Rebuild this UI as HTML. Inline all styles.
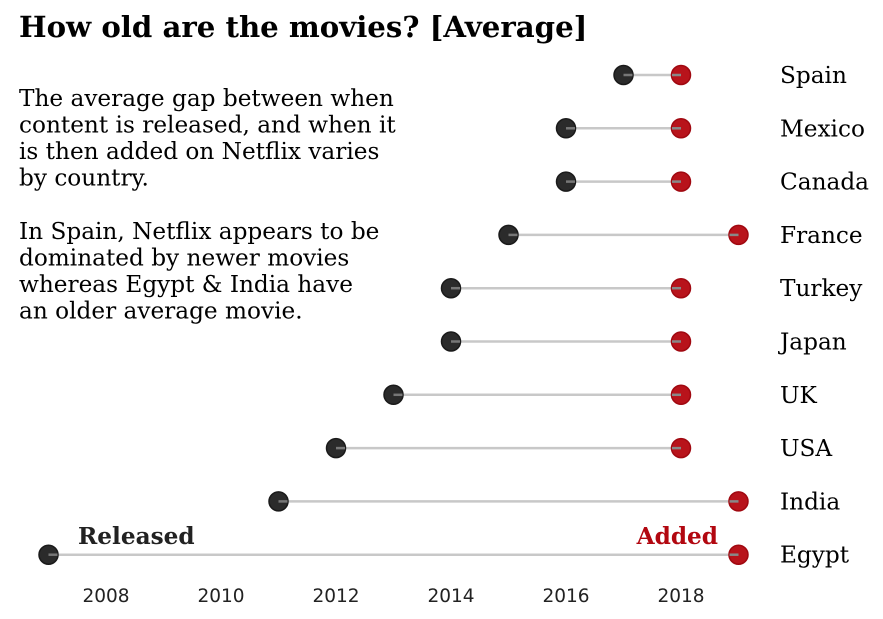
<!DOCTYPE html>
<html><head><meta charset="utf-8"><style>
body{margin:0;background:#fff;}
svg{display:block;}
.serif{font-family:"DejaVu Serif","Liberation Serif",serif;}
.sans{font-family:"DejaVu Sans","Liberation Sans",sans-serif;}
</style></head><body>
<svg id="chart" width="883" height="619">
<text class="serif" x="19" y="37" font-size="29.2" font-weight="bold" fill="#000">How old are the movies? [Average]</text>
<g class="serif" font-size="23.2" fill="#000">
<text x="19" y="106">The average gap between when</text>
<text x="19" y="132.5">content is released, and when it</text>
<text x="19" y="159">is then added on Netflix varies</text>
<text x="19" y="185.5">by country.</text>
<text x="19" y="239">In Spain, Netflix appears to be</text>
<text x="19" y="265.5">dominated by newer movies</text>
<text x="19" y="292">whereas Egypt &amp; India have</text>
<text x="19" y="318.5">an older average movie.</text>
</g>
<text class="serif" x="78" y="544" font-size="23.2" font-weight="bold" fill="#222">Released</text>
<text class="serif" x="718" y="544" font-size="23.2" font-weight="bold" fill="#b20710" text-anchor="end">Added</text>
<g id="marks"></g>
</svg>
<script>
const countries=["Spain","Mexico","Canada","France","Turkey","Japan","UK","USA","India","Egypt"];
const released=[2017,2016,2016,2015,2014,2014,2013,2012,2011,2007];
const added=[2018,2018,2018,2019,2018,2018,2018,2018,2019,2019];
const ticks=[2008,2010,2012,2014,2016,2018];
const NS="http://www.w3.org/2000/svg";
function x(v){return 106+(v-2008)*57.5;}
function y(i){return 75+i*53.3;}
const g=document.getElementById('marks');
function mk(t,a){const e=document.createElementNS(NS,t);for(const k in a)e.setAttribute(k,a[k]);g.appendChild(e);return e;}
ticks.forEach(t=>{
 const e=mk('text',{x:x(t),y:602,'text-anchor':'middle','font-size':18.5,fill:'#222',class:'sans'});
 e.textContent=t;
 
 
});
countries.forEach((c,i)=>{
 const l=mk('line',{x1:x(released[i]),x2:x(added[i]),y1:y(i),y2:y(i),stroke:'#c8c8c8','stroke-width':2.5});
 
 
 const d1=mk('circle',{cx:x(released[i]),cy:y(i),r:9.5,fill:'#2b2b2b',stroke:'#1a1a1a','stroke-width':1.5});
 
 
 const d2=mk('circle',{cx:x(added[i]),cy:y(i),r:9.5,fill:'#b8131b',stroke:'#a00810','stroke-width':1.5});
 
 
 const o1=mk('line',{x1:x(released[i]),x2:x(released[i])+9,y1:y(i),y2:y(i),stroke:'#777','stroke-width':2.5});
 
 
 const o2=mk('line',{x1:x(added[i])-9,x2:x(added[i]),y1:y(i),y2:y(i),stroke:'#888','stroke-width':2.5});
 
 
 const t=mk('text',{x:780,y:y(i)+8,'font-size':23.2,fill:'#000',class:'serif'});
 t.textContent=c;
 
 
});
</script>
</body></html>
